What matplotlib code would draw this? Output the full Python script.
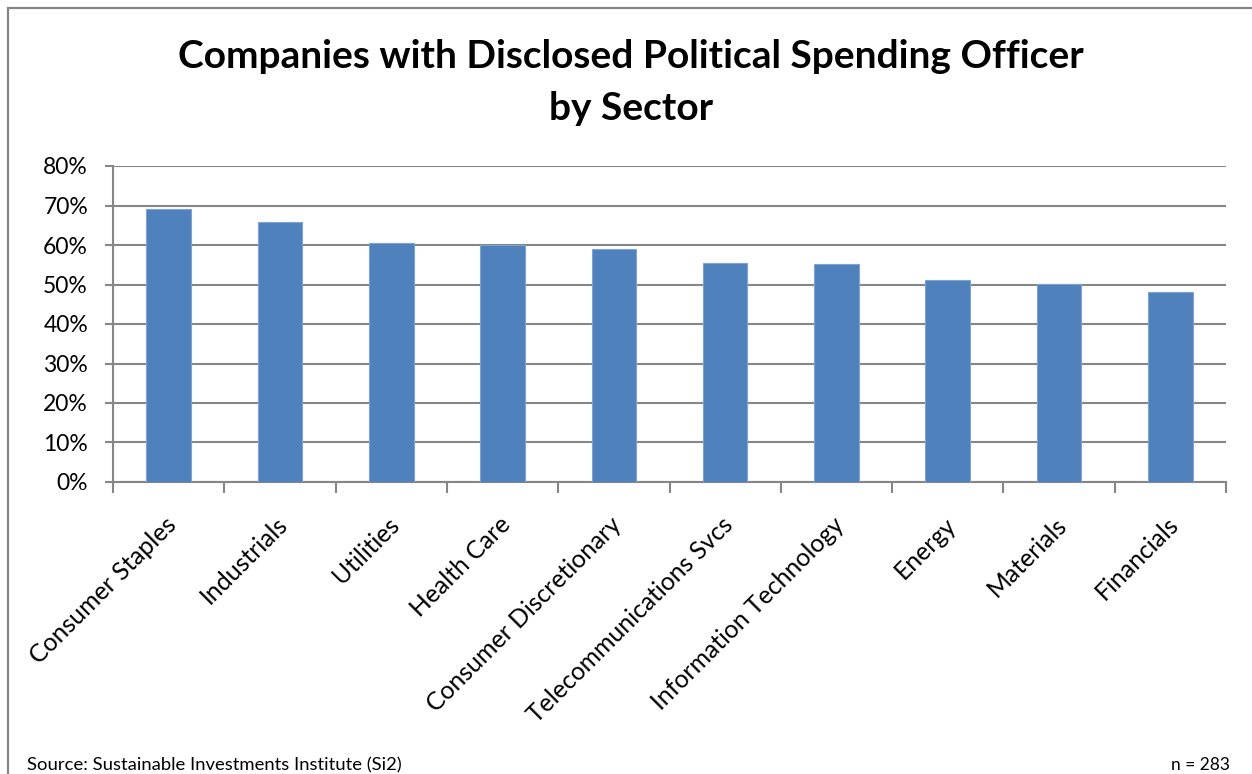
import matplotlib
matplotlib.use("Agg")
import matplotlib.pyplot as plt
from matplotlib.patches import Rectangle
from matplotlib.ticker import FuncFormatter

plt.rcParams['font.family'] = ['Lato', 'DejaVu Sans']

sectors = ["Consumer Staples", "Industrials", "Utilities", "Health Care",
           "Consumer Discretionary", "Telecommunications Svcs",
           "Information Technology", "Energy", "Materials", "Financials"]
share = [69.1, 65.8, 60.6, 59.9, 58.9, 55.5, 55.3, 51.2, 50.1, 48.0]
y_ticks = [0, 10, 20, 30, 40, 50, 60, 70, 80]

title_lines = ["Companies with Disclosed Political Spending Officer", "by Sector"]
source_note = "Source: Sustainable Investments Institute (Si2)"
sample_note = "n = 283"

W, H = 1252, 774
fig = plt.figure(figsize=(W / 100, H / 100), dpi=100)
fig.patch.set_facecolor("white")

# chart-area frame (left and top edges visible)
fig.add_artist(Rectangle((8 / W, -0.05), 1.1, 1.05 - 8 / H,
                         transform=fig.transFigure, fill=False,
                         edgecolor="#868686", linewidth=1.6))

ax = fig.add_axes([113 / W, 1 - 482 / H, (1226 - 113) / W, (482 - 166) / H])
grid_c = "#868686"

x = list(range(len(sectors)))
ax.bar(x, share, width=0.4, color="#4F81BD", edgecolor="#7FA3D0",
       linewidth=0.8, zorder=3)

ax.set_xlim(-0.5, len(sectors) - 0.5)
ax.set_ylim(0, 80)
ax.set_yticks(y_ticks)
ax.yaxis.set_major_formatter(FuncFormatter(lambda v, p: f"{v:.0f}%"))
ax.yaxis.grid(True, color=grid_c, linewidth=1.5, zorder=0)
ax.set_axisbelow(True)

for s in ["top", "right"]:
    ax.spines[s].set_visible(False)
for s in ["left", "bottom"]:
    ax.spines[s].set_color(grid_c)
    ax.spines[s].set_linewidth(1.5)

ax.tick_params(axis="y", direction="out", length=6, width=1.5, color=grid_c,
               labelsize=16.5, pad=12, labelcolor="black")
bounds = [i - 0.5 for i in range(len(sectors) + 1)]
ax.set_xticks(bounds)
ax.set_xticklabels([])
ax.tick_params(axis="x", direction="out", length=8, width=1.5, color=grid_c)

for i, name in enumerate(sectors):
    ax.annotate(name, xy=(i, 0), xycoords=("data", "axes fraction"),
                xytext=(3, -28), textcoords="offset points",
                rotation=45, rotation_mode="anchor", ha="right", va="center",
                fontsize=17.8, color="black")

fig.text(631 / W, 1 - 57 / H, title_lines[0], ha="center", va="center",
         fontsize=28, fontweight="bold")
fig.text(631 / W, 1 - 108 / H, title_lines[1], ha="center", va="center",
         fontsize=28, fontweight="bold")

fig.text(27 / W, 1 - 765 / H, source_note, ha="left", va="center", fontsize=13.3)
fig.text(1230 / W, 1 - 765 / H, sample_note, ha="right", va="center", fontsize=12.5)

fig.savefig("out.png", dpi=100, facecolor="white")
